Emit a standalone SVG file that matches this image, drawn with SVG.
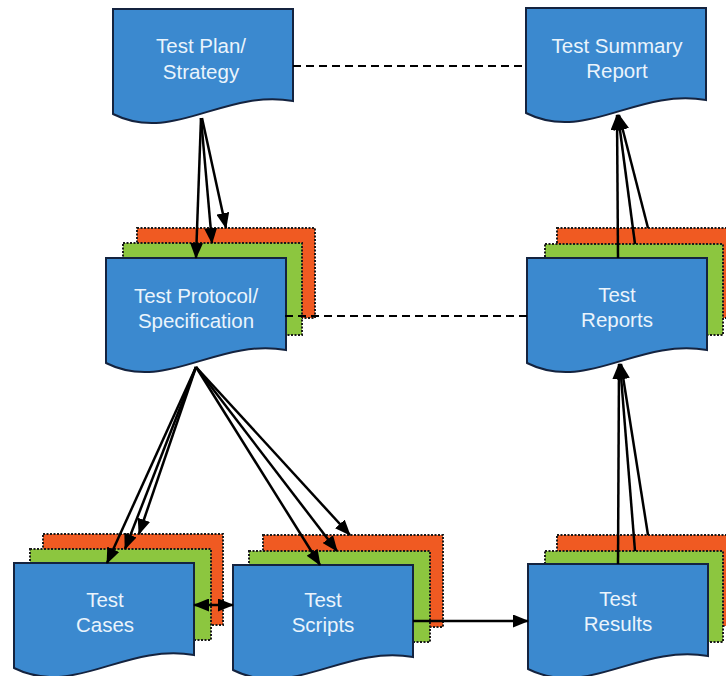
<svg xmlns="http://www.w3.org/2000/svg" width="726" height="676" viewBox="0 0 726 676">
<style>
.doc{fill:#3b89cf;stroke:#14233f;stroke-width:2}
.g{fill:#8cc63f;stroke:#1a1a1a;stroke-width:2;stroke-dasharray:2 1.5}
.o{fill:#f05a22;stroke:#1a1a1a;stroke-width:2;stroke-dasharray:2 1.5}
.t{font-family:"Liberation Sans",Arial,sans-serif;font-size:20.5px;fill:#eaf4fc;text-anchor:middle}
.c{stroke:#000;stroke-width:2.5;fill:none}
.a{marker-end:url(#ah)}
.d{stroke-dasharray:8 5;stroke-width:2}
</style>
<defs>
<path id="docp" d="M0,0 H180 V92 C110,80 60,135 0,105 Z"/>
<marker id="ah" markerUnits="userSpaceOnUse" markerWidth="16" markerHeight="13" refX="15" refY="6.5" orient="auto-start-reverse"><path d="M0,0 L16,6.5 L0,13 Z" fill="#000"/></marker>
</defs>
<rect width="726" height="676" fill="#fff"/>
<g id="test-plan" transform="translate(113,9)">
<use href="#docp" class="doc"/>
<text class="t" x="88" y="44">Test Plan/</text>
<text class="t" x="88" y="70">Strategy</text>
</g>
<g id="test-summary" transform="translate(526,8)">
<use href="#docp" class="doc"/>
<text class="t" x="91" y="45">Test Summary</text>
<text class="t" x="91" y="70">Report</text>
</g>
<g id="test-protocol" transform="translate(106,258)">
<rect class="o" x="31" y="-30" width="178" height="90"/>
<rect class="g" x="17" y="-15" width="179" height="92"/>
<use href="#docp" class="doc"/>
<text class="t" x="90" y="45">Test Protocol/</text>
<text class="t" x="90" y="70">Specification</text>
</g>
<g id="test-reports" transform="translate(527,258)">
<rect class="o" x="30" y="-30" width="180" height="90"/>
<rect class="g" x="18" y="-14" width="178" height="91"/>
<use href="#docp" class="doc"/>
<text class="t" x="90" y="44">Test</text>
<text class="t" x="90" y="69">Reports</text>
</g>
<g id="test-cases" transform="translate(14,563)">
<rect class="o" x="29" y="-29" width="180" height="91"/>
<rect class="g" x="16" y="-14" width="181" height="91"/>
<use href="#docp" class="doc"/>
<text class="t" x="91" y="44">Test</text>
<text class="t" x="91" y="69">Cases</text>
</g>
<g id="test-scripts" transform="translate(233,565)">
<rect class="o" x="30" y="-30" width="180" height="92"/>
<rect class="g" x="16" y="-14" width="181" height="91"/>
<use href="#docp" class="doc"/>
<text class="t" x="90" y="42">Test</text>
<text class="t" x="90" y="67">Scripts</text>
</g>
<g id="test-results" transform="translate(528,564)">
<rect class="o" x="29" y="-29" width="180" height="91"/>
<rect class="g" x="17" y="-13" width="178" height="91"/>
<use href="#docp" class="doc"/>
<text class="t" x="90" y="42">Test</text>
<text class="t" x="90" y="67">Results</text>
</g>
<g id="connectors">
<line class="c d" x1="293" y1="66" x2="526" y2="66"/>
<line class="c d" x1="285" y1="316" x2="527" y2="316"/>
<line class="c a" x1="201" y1="118" x2="196" y2="258"/>
<line class="c a" x1="201" y1="118" x2="212" y2="243"/>
<line class="c a" x1="202" y1="118" x2="226" y2="228"/>
<line class="c a" x1="196" y1="367" x2="107" y2="563"/>
<line class="c a" x1="196" y1="367" x2="125" y2="549"/>
<line class="c a" x1="196" y1="367" x2="139" y2="534"/>
<line class="c a" x1="196" y1="367" x2="320" y2="565"/>
<line class="c a" x1="196" y1="367" x2="337" y2="551"/>
<line class="c a" x1="196" y1="367" x2="350" y2="535"/>
<line class="c a" x1="618" y1="564" x2="619" y2="364"/>
<line class="c a" x1="635" y1="551" x2="620" y2="364"/>
<line class="c a" x1="648" y1="535" x2="621" y2="364"/>
<line class="c a" x1="618" y1="258" x2="617" y2="115"/>
<line class="c a" x1="635" y1="244" x2="618" y2="115"/>
<line class="c a" x1="648" y1="228" x2="619" y2="115"/>
<line class="c a" x1="194" y1="605" x2="233" y2="605" marker-start="url(#ah)"/>
<line class="c a" x1="413" y1="621" x2="528" y2="621"/>
</g>
</svg>
